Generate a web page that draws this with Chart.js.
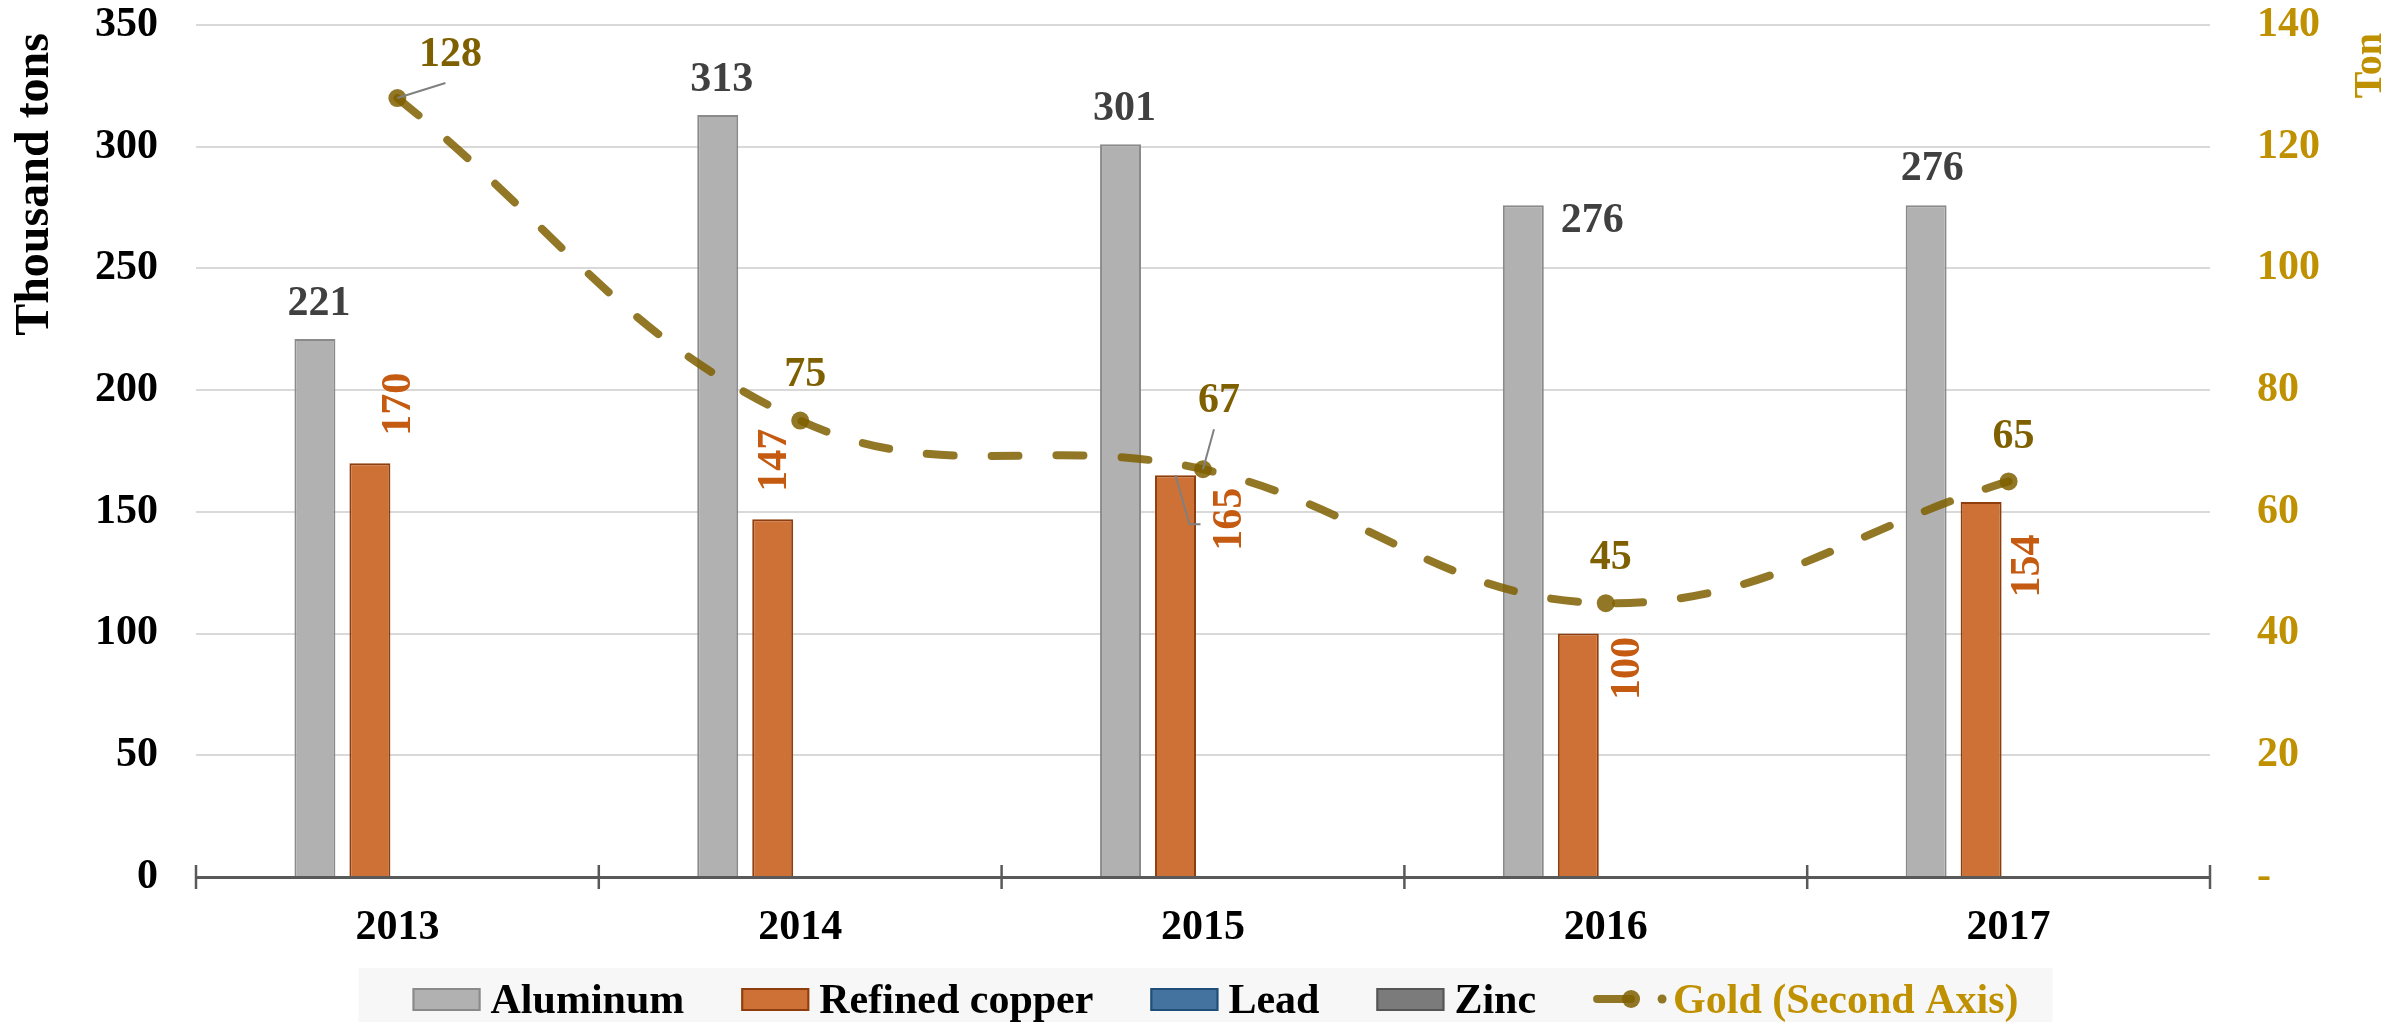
<!DOCTYPE html>
<html lang="en">
<head>
<meta charset="UTF-8">
<title>Metal production 2013-2017</title>
<style>
  body { margin: 0; background: #fff; }
  #wrap { width: 2407px; height: 1022px; }
</style>
</head>
<body>
<div id="wrap"><canvas id="chart" width="2407" height="1022"></canvas></div>
<script src="https://cdn.jsdelivr.net/npm/chart.js@4/dist/chart.umd.min.js"></script>
<script>
// data
const years = ['2013', '2014', '2015', '2016', '2017'];
const aluminum = [221, 313, 301, 276, 276];
const refinedCopper = [170, 147, 165, 100, 154];
const lead = [null, null, null, null, null];
const zinc = [null, null, null, null, null];
const gold = [128, 75, 67, 45, 65];

const leftMax = 350, leftStep = 50;
const rightMax = 140, rightStep = 20;

const FONT = 'Liberation Serif';
Chart.defaults.font.family = FONT;

// where each value label sits, relative to the bar top / point (label centre)
const labelStyle = {
    'Aluminum': { color: '#404040', rotate: false,
        place: [[4, -35], [4, -35], [4, -35], [69, 16], [6, -36]] },
    'Refined copper': { color: '#C55A11', rotate: true,
        place: [[29, -59], [2, -59], [55, 44], [50, 35], [47, 64]],
        leaders: { 2: [[-30, 5], [-41, 5]] } },
    'Gold (Second Axis)': { color: '#7F6000', rotate: false,
        place: [[53, -43], [5, -45], [16, -68], [5, -45], [5, -44]],
        leaders: { 0: [[-5, 28]], 2: [[-5, 28]] } }
};

const valueLabels = {
    id: 'valueLabels',
    afterDatasetsDraw(chart) {
        const ctx = chart.ctx;
        ctx.save();
        ctx.font = 'bold 42px "' + FONT + '"';
        ctx.textAlign = 'center';
        ctx.textBaseline = 'middle';
        chart.data.datasets.forEach((ds, di) => {
            const st = labelStyle[ds.label];
            if (!st) return;
            const meta = chart.getDatasetMeta(di);
            meta.data.forEach((el, i) => {
                const v = ds.data[i];
                if (v == null) return;
                const cx = el.x + st.place[i][0];
                const cy = el.y + st.place[i][1];
                if (st.leaders && st.leaders[i]) {
                    ctx.strokeStyle = '#808080';
                    ctx.lineWidth = 2;
                    ctx.beginPath();
                    st.leaders[i].forEach((p, k) => {
                        if (k === 0) ctx.moveTo(cx + p[0], cy + p[1]);
                        else ctx.lineTo(cx + p[0], cy + p[1]);
                    });
                    ctx.lineTo(el.x, el.y);
                    ctx.stroke();
                }
                ctx.fillStyle = st.color;
                if (st.rotate) {
                    ctx.save();
                    ctx.translate(cx, cy);
                    ctx.rotate(-Math.PI / 2);
                    ctx.fillText(String(v), 0, 0);
                    ctx.restore();
                } else {
                    ctx.fillText(String(v), cx, cy);
                }
            });
        });
        ctx.restore();
    }
};

// tick marks between categories, crossing the x axis line
const axisTicks = {
    id: 'axisTicks',
    afterDraw(chart) {
        const x = chart.scales.x;
        const ctx = chart.ctx;
        const y0 = chart.chartArea.bottom;
        ctx.save();
        ctx.strokeStyle = '#595959';
        ctx.lineWidth = 2.5;
        for (let i = 0; i <= years.length; i++) {
            const px = x.getPixelForValue(i - 0.5);
            ctx.beginPath();
            ctx.moveTo(px, y0 - 12);
            ctx.lineTo(px, y0 + 12);
            ctx.stroke();
        }
        ctx.restore();
    }
};

// axis titles + legend strip
const decorations = {
    id: 'decorations',
    afterDraw(chart) {
        const ctx = chart.ctx;
        const area = chart.chartArea;
        const H = chart.height;
        ctx.save();

        ctx.textBaseline = 'middle';
        ctx.textAlign = 'right';
        ctx.font = 'bold 48px "' + FONT + '"';
        ctx.fillStyle = '#000';
        ctx.save();
        ctx.translate(area.left - 160, area.top + 8);
        ctx.rotate(-Math.PI / 2);
        ctx.fillText('Thousand tons', 0, 0);
        ctx.restore();

        ctx.font = 'bold 40px "' + FONT + '"';
        ctx.fillStyle = '#BF9000';
        ctx.save();
        ctx.translate(area.right + 161, area.top + 8);
        ctx.rotate(-Math.PI / 2);
        ctx.fillText('Ton', 0, 0);
        ctx.restore();

        // legend
        ctx.font = 'bold 42px "' + FONT + '"';
        const items = chart.data.datasets.map(ds => ({
            ds: ds,
            line: ds.type === 'line',
            symW: ds.type === 'line' ? 80 : 78,
            textW: ctx.measureText(ds.label).width
        }));
        const gap = 57;
        let total = gap * (items.length - 1);
        items.forEach(it => { total += it.symW + it.textW; });
        let x = chart.width / 2 - total / 2 + 12;

        ctx.fillStyle = '#F7F7F7';
        ctx.fillRect(x - 54, H - 54, total + 88, 54);

        ctx.textAlign = 'left';
        ctx.textBaseline = 'alphabetic';
        items.forEach(it => {
            const ds = it.ds;
            if (it.line) {
                const cy = H - 23;
                ctx.strokeStyle = ds.borderColor;
                ctx.lineWidth = 8;
                ctx.lineCap = 'round';
                ctx.beginPath();
                ctx.moveTo(x + 4, cy);
                ctx.lineTo(x + 38, cy);
                ctx.stroke();
                ctx.fillStyle = ds.pointBackgroundColor;
                ctx.beginPath();
                ctx.arc(x + 38, cy, 9, 0, Math.PI * 2);
                ctx.fill();
                ctx.beginPath();
                ctx.arc(x + 69, cy, 4.5, 0, Math.PI * 2);
                ctx.fill();
                ctx.fillStyle = '#BF9000';
            } else {
                ctx.fillStyle = ds.backgroundColor;
                ctx.fillRect(x, H - 34, 68, 23);
                ctx.strokeStyle = ds.borderColor;
                ctx.lineWidth = 2;
                ctx.strokeRect(x + 1, H - 33, 66, 21);
                ctx.fillStyle = '#000';
            }
            ctx.fillText(ds.label, x + it.symW, H - 9);
            x += it.symW + it.textW + gap;
        });
        ctx.restore();
    }
};

// keep the plot area where the original has it: no extra room for end labels
function noEndPadding(axis) {
    axis.paddingTop = 0;
    axis.paddingBottom = 0;
}

const barCommon = {
    type: 'bar',
    yAxisID: 'y',
    order: 1,
    borderWidth: 2,
    categoryPercentage: 0.546,
    barPercentage: 0.745
};

new Chart(document.getElementById('chart'), {
    type: 'bar',
    data: {
        labels: years,
        datasets: [
            Object.assign({}, barCommon, { label: 'Aluminum', data: aluminum,
                backgroundColor: '#B1B1B1', borderColor: '#8A8A8A' }),
            Object.assign({}, barCommon, { label: 'Refined copper', data: refinedCopper,
                backgroundColor: '#CD7136', borderColor: '#8E3E0E' }),
            Object.assign({}, barCommon, { label: 'Lead', data: lead,
                backgroundColor: '#44739F', borderColor: '#1F4E79' }),
            Object.assign({}, barCommon, { label: 'Zinc', data: zinc,
                backgroundColor: '#7B7B7B', borderColor: '#555555' }),
            {
                type: 'line',
                label: 'Gold (Second Axis)',
                data: gold,
                yAxisID: 'y2',
                order: 0,
                borderColor: 'rgba(127,96,0,0.85)',
                borderWidth: 8,
                borderDash: [27, 38],
                borderCapStyle: 'round',
                tension: 0.4,
                fill: false,
                pointRadius: 9,
                pointBackgroundColor: 'rgba(127,96,0,0.85)',
                pointBorderWidth: 0
            }
        ]
    },
    options: {
        responsive: false,
        animation: false,
        layout: { padding: { top: 25, left: 0, right: 0, bottom: 0 } },
        plugins: {
            legend: { display: false },
            tooltip: { enabled: false }
        },
        scales: {
            x: {
                offset: true,
                grid: { display: true, drawOnChartArea: false, drawTicks: false },
                border: { display: true, color: '#595959', width: 3 },
                ticks: { font: { size: 42, weight: 'bold' }, color: '#000', padding: 26 },
                afterFit(axis) { axis.height = 145; }
            },
            y: {
                position: 'left',
                min: 0,
                max: leftMax,
                ticks: { stepSize: leftStep, font: { size: 42, weight: 'bold' }, color: '#000', padding: 38 },
                grid: { color: '#D9D9D9', lineWidth: 2, drawTicks: false },
                border: { display: false },
                afterFit(axis) { axis.width = 196; noEndPadding(axis); }
            },
            y2: {
                position: 'right',
                min: 0,
                max: rightMax,
                ticks: {
                    stepSize: rightStep,
                    font: { size: 42, weight: 'bold' },
                    color: '#BF9000',
                    padding: 47,
                    callback: v => (v === 0 ? '-' : v)
                },
                grid: { display: false, drawTicks: false },
                border: { display: false },
                afterFit(axis) { axis.width = 197; noEndPadding(axis); }
            }
        }
    },
    plugins: [valueLabels, axisTicks, decorations]
});
</script>
</body>
</html>
